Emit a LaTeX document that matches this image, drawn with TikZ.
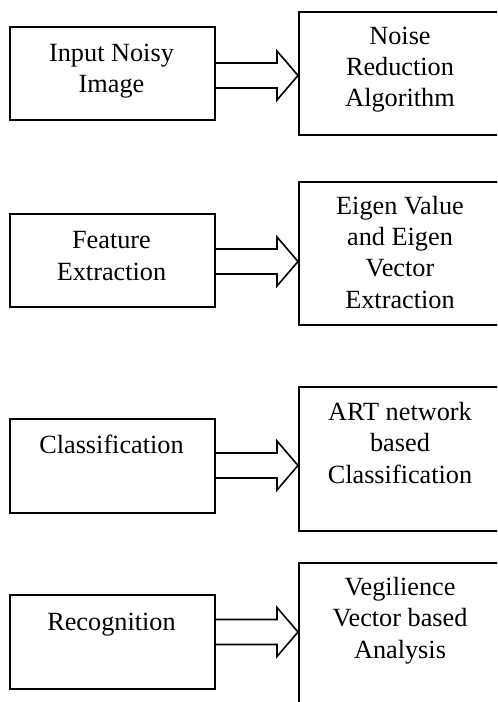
\documentclass[tikz,border=0pt]{standalone}
\usepackage{fontspec}
\setmainfont{Liberation Serif}
\begin{document}
\begin{tikzpicture}[x=0.75pt,y=-0.75pt,
  box/.style={draw, line width=1.2pt, inner sep=0pt, anchor=north west},
  lbox/.style={box, minimum width=205*0.75pt},
  rbox/.style={box, minimum width=204*0.75pt},
  txt/.style={align=center, anchor=base, inner sep=0pt, font=\fontsize{19.7pt}{23.3pt}\selectfont},
  arr/.style={draw, line width=1.2pt, line join=miter}]
\useasboundingbox (0,0) rectangle (497,702);
\clip (0,0) rectangle (497,702);
\newcommand\blockarr[3]{%
  \draw[arr] (#1.east |- 0,{#3-12.5}) -- (277,{#3-12.5}) -- (277,{#3-24.5})
    -- (#2.west |- 0,#3) -- (277,{#3+24.5}) -- (277,{#3+12.5})
    -- (#1.east |- 0,{#3+12.5});}
% left boxes
\node[lbox, minimum height=93*0.75pt] (L1) at (9,26) {};
\node[lbox, minimum height=93*0.75pt] (L2) at (9,213) {};
\node[lbox, minimum height=94*0.75pt] (L3) at (9,418) {};
\node[lbox, minimum height=94*0.75pt] (L4) at (9,594) {};
% right boxes
\node[rbox, minimum height=123*0.75pt] (R1) at (298,11) {};
\node[rbox, minimum height=143*0.75pt] (R2) at (298,181) {};
\node[rbox, minimum height=144*0.75pt] (R3) at (298,386) {};
\node[rbox, minimum height=160*0.75pt] (R4) at (298,562) {};
% texts (anchored at the baseline of the last line)
\node[txt] (tL1) at (111.5,93) {Input Noisy\\Image};
\node[txt] (tL2) at (111.5,280) {Feature\\Extraction};
\node[txt] (tL3) at (111.5,453) {Classification};
\node[txt] (tL4) at (111.5,630) {Recognition};
\node[txt] (tR1) at (400,107) {Noise\\Reduction\\Algorithm};
\node[txt] (tR2) at (400,308) {Eigen Value\\and Eigen\\Vector\\Extraction};
\node[txt] (tR3) at (400,483) {ART network\\based\\Classification};
\node[txt] (tR4) at (400,658) {Vegilience\\Vector based\\Analysis};
% arrows
\blockarr{L1}{R1}{75.5}
\blockarr{L2}{R2}{261.5}
\blockarr{L3}{R3}{465.5}
\blockarr{L4}{R4}{632}
\end{tikzpicture}
\end{document}
